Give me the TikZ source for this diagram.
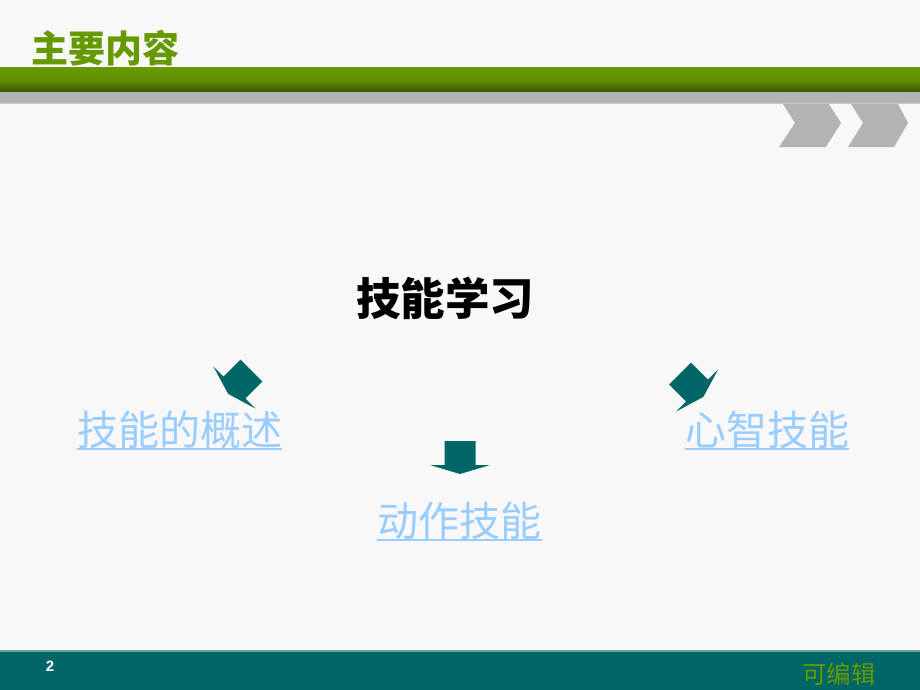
\documentclass[tikz,border=0pt]{standalone}
\usepackage{fontspec}
\newfontfamily\cjk{Noto Sans CJK SC}
\setmainfont{Liberation Sans}
\definecolor{bgc}{RGB}{248,248,248}
\definecolor{titlegreen}{RGB}{102,153,0}
\definecolor{bargreen}{RGB}{102,153,0}
\definecolor{bardark}{RGB}{56,84,0}
\definecolor{bargray}{RGB}{179,179,179}
\definecolor{teal}{RGB}{0,102,102}
\definecolor{linkblue}{RGB}{153,204,255}
\tikzset{
  linktext/.style={anchor=base, inner sep=0pt, text=linkblue, font=\cjk\fontsize{41}{41}\selectfont},
  linkline/.style={draw=linkblue, line width=1.8pt},
  blockarrow/.style={fill=teal, draw=none},
  chevron/.style={fill=bargray, draw=none}
}
\begin{document}
\begin{tikzpicture}[x=1pt,y=-1pt]
\useasboundingbox (0,0) rectangle (920,690);
\fill[bgc] (0,0) rectangle (920,690);
% header bars
\shade[top color=bargreen, bottom color=bardark, middle color=bargreen!85!bardark] (0,68) rectangle (920,92);
\fill[bargray] (0,92) rectangle (920,104);
\fill[bargray!70!white] (0,103.2) rectangle (920,104.2);
% chevrons
\fill[chevron] (783,104) -- (829,104) -- (841,123) -- (826,147) -- (779,147) -- (795,123) -- cycle;
\fill[chevron] (851,104) -- (898,104) -- (908,123) -- (894,147) -- (848,147) -- (863,123) -- cycle;
% title
\node[anchor=base, inner sep=0pt, text=titlegreen, font=\cjk\bfseries\fontsize{37}{37}\selectfont] (title) at (105,63) {主要内容};
% footer
\fill[teal] (0,651) rectangle (920,690);
\fill[teal!60!white] (0,650) rectangle (920,651.5);
\node[inner sep=0pt, text=white, font=\bfseries\fontsize{15}{15}\selectfont] (pagenum) at (50,666.5) {2};
\node[anchor=base, inner sep=0pt, text=titlegreen, font=\cjk\fontsize{24.5}{24.5}\selectfont] (edit) at (839,683) {可编辑};
% central text
\node[anchor=base, inner sep=0pt, font=\cjk\bfseries\fontsize{44.5}{44.5}\selectfont] (main) at (445,315) {技能学习};
% link texts
\node[linktext] (l1) at (179.5,445) {技能的概述};
\node[linktext] (l2) at (767,445) {心智技能};
\node[linktext] (l3) at (459.5,536) {动作技能};
\draw[linkline] ([yshift=-4pt]l1.base west) -- ([yshift=-4pt]l1.base east);
\draw[linkline] ([yshift=-4pt]l2.base west) -- ([yshift=-4pt]l2.base east);
\draw[linkline] ([yshift=-4pt]l3.base west) -- ([yshift=-4pt]l3.base east);
% block arrows
\begin{scope}[shift={(460,465)}]
\fill[blockarrow] (-15.5,-24) -- (15.5,-24) -- (15.5,0) -- (30,0) -- (0,9) -- (-30,0) -- (-15.5,0) -- cycle;
\end{scope}
\begin{scope}[shift={(234.5,387.5)}, rotate=-45]
\fill[blockarrow] (-15.5,-24) -- (15.5,-24) -- (15.5,0) -- (30,0) -- (0,9) -- (-30,0) -- (-15.5,0) -- cycle;
\end{scope}
\begin{scope}[shift={(697,390.5)}, rotate=45]
\fill[blockarrow] (-15.5,-24) -- (15.5,-24) -- (15.5,0) -- (30,0) -- (0,9) -- (-30,0) -- (-15.5,0) -- cycle;
\end{scope}
\end{tikzpicture}
\end{document}
